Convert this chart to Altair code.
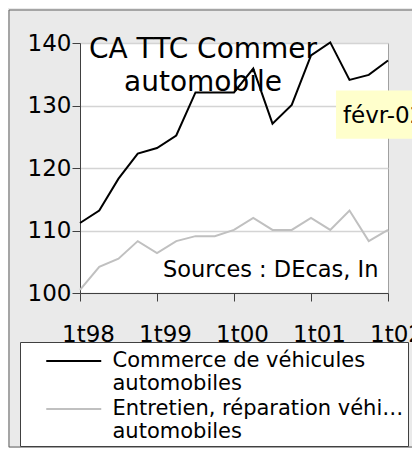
import altair as alt
import pandas as pd

quarters = ["1t98", "2t98", "3t98", "4t98", "1t99", "2t99", "3t99", "4t99",
            "1t00", "2t00", "3t00", "4t00", "1t01", "2t01", "3t01", "4t01", "1t02"]
commerce = [111.2, 113.2, 118.3, 122.3, 123.2, 125.2, 132.1, 132.1, 132.1,
            135.9, 127.1, 130.1, 138.0, 140.1, 134.1, 134.9, 137.2]
entretien = [100.5, 104.2, 105.5, 108.3, 106.4, 108.3, 109.1, 109.1, 110.1,
             112.0, 110.1, 110.1, 112.0, 110.1, 113.2, 108.3, 110.1]
series_names = ["Commerce de véhicules|automobiles",
                "Entretien, réparation véhicules|automobiles"]
series_colors = ["#000000", "#c0c0c0"]
year_ticks = ["1t98", "1t99", "1t00", "1t01", "1t02"]
y_ticks = [100, 110, 120, 130, 140]
title_lines = ["CA TTC Commer", "automobile"]
source_note = "Sources : DEcas, In"
tooltip_label = "févr-02"

rows = []
for i, q in enumerate(quarters):
    rows.append({"t": i, "quarter": q, "serie": series_names[0], "value": commerce[i]})
    rows.append({"t": i, "quarter": q, "serie": series_names[1], "value": entretien[i]})
df = pd.DataFrame(rows)

FONT = "DejaVu Sans"
tick_idx = [quarters.index(q) for q in year_ticks]
label_expr = "[" + ",".join("'%s'" % q for q in quarters) + "][round(datum.value)]"

xscale = alt.Scale(domain=[0, len(quarters) - 1], nice=False, zero=False)
yscale = alt.Scale(domain=[100, 140], nice=False, zero=False)

x_axis = alt.Axis(values=tick_idx, labelExpr=label_expr, title=None, grid=False,
                  tickSize=8, tickColor="#404040", domainColor="#404040",
                  labelFont=FONT, labelFontSize=23, labelColor="#000000",
                  labelPadding=22, labelOffset=8, labelAngle=0,
                  labelFlush=False, labelOverlap=False)
y_axis = alt.Axis(values=y_ticks, title=None, grid=True, gridColor="#d4d4d4",
                  gridWidth=1.5, tickSize=8, tickColor="#404040",
                  domainColor="#404040", labelFont=FONT, labelFontSize=23,
                  labelColor="#000000", labelPadding=1)

legend = alt.Legend(title=None, orient="none", legendX=-60, legendY=299,
                    direction="vertical", fillColor="#ffffff",
                    strokeColor="#404040", padding=4,
                    symbolType="M-2,0H2", symbolSize=756, symbolStrokeWidth=2,
                    symbolOffset=34.75, labelOffset=23.75, labelFont=FONT,
                    labelFontSize=21, labelColor="#000000", labelLimit=296,
                    labelExpr="split(datum.label, '|')", rowPadding=0)

lines = alt.Chart(df).mark_line(strokeWidth=2).encode(
    x=alt.X("t:Q", scale=xscale, axis=x_axis),
    y=alt.Y("value:Q", scale=yscale, axis=y_axis),
    color=alt.Color("serie:N", scale=alt.Scale(domain=series_names, range=series_colors),
                    legend=legend),
    detail="serie:N",
)

frame = alt.Chart(pd.DataFrame({"k": [0]})).mark_rect(
    fillOpacity=0, stroke="#606060", strokeWidth=1
).encode(x=alt.value(-71), x2=alt.value(345), y=alt.value(-33), y2=alt.value(404))

tip_box = pd.DataFrame({"t": [13.3], "t2": [17.5], "v": [132.4], "v2": [124.7]})
tip = alt.Chart(tip_box).mark_rect(fill="#ffffcc").encode(
    x=alt.X("t:Q", scale=xscale), x2="t2:Q",
    y=alt.Y("v:Q", scale=yscale), y2="v2:Q")

notes = pd.DataFrame({"t": [4.31, 13.66], "v": [102.56, 127.15],
                      "label": [source_note, tooltip_label],
                      "size": [22.5, 23]})
note_text = alt.Chart(notes).mark_text(font=FONT, align="left", baseline="alphabetic",
                                       color="#000000").encode(
    x=alt.X("t:Q", scale=xscale), y=alt.Y("v:Q", scale=yscale),
    text="label:N", size=alt.Size("size:Q", scale=None, legend=None))

chart = alt.layer(frame, lines, tip, note_text).properties(
    width=308, height=250,
    title=alt.TitleParams(text=title_lines, font=FONT, fontSize=28, fontWeight="normal",
                          color="#000000", anchor="middle", dx=-31, dy=91, lineHeight=33),
    padding={"left": 72, "top": 35, "right": 24, "bottom": 155},
    autosize=alt.AutoSizeParams(type="none"),
    background="#eaeaea",
).configure_view(fill="#ffffff", stroke="#a0a0a0", strokeWidth=1)

chart.save("out.html", embed_options={"renderer": "svg", "actions": False})
